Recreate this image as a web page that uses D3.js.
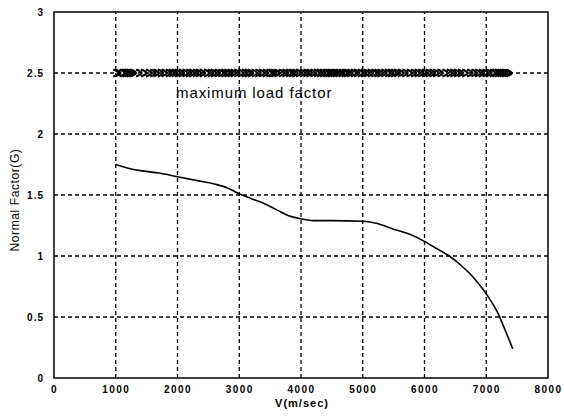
<!DOCTYPE html>
<html><head><meta charset="utf-8">
<script src="https://cdn.jsdelivr.net/npm/d3@7"></script>
<style>
html,body{margin:0;padding:0;background:#fff;}
svg{display:block;font-family:"Liberation Sans",Arial,sans-serif;}
</style></head>
<body><svg id="c" width="564" height="417"></svg>
<script>
const xTicks = [0,1000,2000,3000,4000,5000,6000,7000,8000];
const yTicks = [0,0.5,1,1.5,2,2.5,3];
const yTickLabels = ["0","0.5","1","1.5","2","2.5","3"];
const curveV = [1000,1200,1400,1700,2000,2300,2600,2800,3000,3200,3400,3600,3800,4000,4200,4500,5000,5200,5500,5800,6000,6200,6400,6600,6800,7000,7200,7300,7430];
const curveG = [1.75,1.72,1.70,1.68,1.65,1.62,1.59,1.56,1.51,1.47,1.43,1.38,1.33,1.305,1.29,1.29,1.285,1.27,1.22,1.17,1.12,1.06,1.0,0.92,0.82,0.69,0.52,0.40,0.24];
const maxV = [1000,1030,1100,1130,1160,1190,1220,1250,1280,1370,1450,1530,1600,1650,1720,1780,1850,1900,1950,2000,2060,2120,2180,2230,2290,2340,2400,2470,2530,2580,2640,2700,2750,2800,2850,2900,2960,3020,3080,3130,3180,3240,3300,3360,3420,3480,3520,3560,3610,3680,3740,3800,3850,3900,3960,4020,4080,4130,4190,4250,4300,4350,4400,4440,4480,4520,4560,4600,4650,4700,4740,4790,4850,4900,4960,5010,5060,5120,5180,5230,5280,5340,5400,5450,5500,5550,5610,5680,5750,5820,5880,5940,6000,6060,6120,6180,6250,6330,6400,6460,6520,6580,6650,6730,6800,6860,6920,6980,7040,7100,7140,7180,7220,7260,7300,7340,7370];
const maxG = 2.5;
const xLabel = "V(m/sec)";
const yLabel = "Normal Factor(G)";
const annot = "maximum load factor";

const svg = d3.select("#c");
const L=54, R=548, T=12, B=378;
const x = d3.scaleLinear().domain([0,8000]).range([L,R]);
const y = d3.scaleLinear().domain([0,3]).range([B,T]);

const g = svg.append("g");
g.selectAll("line.vx").data(xTicks.slice(1,-1)).enter().append("line")
  .attr("x1",d=>x(d)).attr("x2",d=>x(d)).attr("y1",B).attr("y2",T)
  .attr("stroke","#000").attr("stroke-width",1.3).attr("stroke-dasharray","4,3");
g.selectAll("line.hy").data(yTicks.slice(1,-1)).enter().append("line")
  .attr("x1",L).attr("x2",R).attr("y1",d=>y(d)).attr("y2",d=>y(d))
  .attr("stroke","#000").attr("stroke-width",1.3).attr("stroke-dasharray","4,3");

svg.append("rect").attr("x",L).attr("y",T).attr("width",R-L).attr("height",B-T)
  .attr("fill","none").attr("stroke","#000").attr("stroke-width",1.5);

const xAxis = d3.axisBottom(x).tickValues(xTicks).tickSize(0).tickPadding(8).tickFormat(d3.format("d"));
const xa = svg.append("g").attr("transform",`translate(0,${B})`).call(xAxis);
xa.select(".domain").remove();
xa.selectAll("text").attr("font-size",10).attr("font-weight","bold").attr("letter-spacing","1.4px").attr("fill","#000").attr("font-family","Liberation Sans, Arial");

const yAxis = d3.axisLeft(y).tickValues(yTicks).tickSize(0).tickPadding(10).tickFormat((d,i)=>yTickLabels[i]);
const ya = svg.append("g").attr("transform",`translate(${L},0)`).call(yAxis);
ya.select(".domain").remove();
ya.selectAll("text").attr("font-size",10).attr("font-weight","bold").attr("letter-spacing","1px").attr("fill","#000").attr("font-family","Liberation Sans, Arial");

svg.append("text").attr("x",(L+R)/2+1).attr("y",407).attr("text-anchor","middle")
  .attr("font-size",11).attr("font-weight","bold").attr("letter-spacing","1px").text(xLabel);
svg.append("text").attr("transform",`translate(19,${(T+B)/2+5}) rotate(-90)`).attr("text-anchor","middle")
  .attr("font-size",12).attr("letter-spacing","0.6px").text(yLabel);

const pts = curveV.map((v,i)=>[v,curveG[i]]);
svg.append("path").datum(pts).attr("fill","none").attr("stroke","#000").attr("stroke-width",1.6)
  .attr("d", d3.line().x(d=>x(d[0])).y(d=>y(d[1])).curve(d3.curveMonotoneX));

svg.append("g").selectAll("path").data(maxV).enter().append("path")
  .attr("transform",d=>`translate(${x(d)},${y(maxG)})`)
  .attr("d","M-2.5,-3.5 Q2,-2 3,0 Q2,2 -2.5,3.5")
  .attr("fill","none").attr("stroke","#000").attr("stroke-width",1.9);

svg.append("text").attr("x",176).attr("y",98).attr("font-size",15).attr("letter-spacing","0.9px").text(annot);
</script></body></html>
